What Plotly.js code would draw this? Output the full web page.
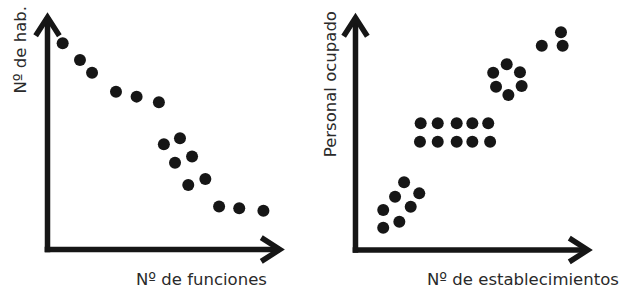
<!DOCTYPE html>
<html>
<head>
<meta charset="utf-8">
<script src="https://cdn.plot.ly/plotly-3.0.1.min.js"></script>
<style>
html, body { margin: 0; padding: 0; background: #ffffff; }
#chart { width: 624px; height: 288px; }
</style>
</head>
<body>
<div id="chart"></div>
<script>
// Left panel: Nº de funciones vs Nº de hab.
const funcionesX = [0.64, 1.37, 1.88, 2.89, 3.76, 4.70, 4.91, 5.59, 5.38, 6.10, 5.94, 6.66, 7.24, 8.09, 9.11];
const habitantesY = [8.70, 8.00, 7.46, 6.66, 6.45, 6.21, 4.44, 4.69, 3.66, 3.92, 2.72, 2.97, 1.81, 1.74, 1.64];

// Right panel: Nº de establecimientos vs Personal ocupado
const establecimientosX = [1.17, 1.85, 1.17, 2.33, 1.67, 2.69, 2.05,
  2.75, 3.47, 4.27, 4.93, 5.60,
  2.72, 3.47, 4.27, 4.93, 5.68,
  6.38, 5.81, 6.94, 5.93, 7.01, 6.45,
  7.86, 8.67, 8.74];
const personalY = [0.94, 1.19, 1.69, 1.83, 2.25, 2.39, 2.86,
  5.35, 5.35, 5.35, 5.35, 5.35,
  4.57, 4.57, 4.57, 4.57, 4.57,
  7.84, 7.48, 7.50, 6.89, 6.92, 6.54,
  8.62, 9.19, 8.62];

const leftXTitle = 'Nº de funciones';
const leftYTitle = 'Nº de hab.';
const rightXTitle = 'Nº de establecimientos';
const rightYTitle = 'Personal ocupado';

const INK = '#161616';
const FONT = {family: 'DejaVu Sans, Arial, sans-serif', size: 16.5, color: '#2a2a2a'};

const markerStyle = {symbol: 'circle', size: 12, color: INK, line: {width: 0}};

const traces = [
  {type: 'scatter', mode: 'markers', x: funcionesX, y: habitantesY, xaxis: 'x', yaxis: 'y', marker: markerStyle, hoverinfo: 'skip'},
  {type: 'scatter', mode: 'markers', x: establecimientosX, y: personalY, xaxis: 'x2', yaxis: 'y2', marker: markerStyle, hoverinfo: 'skip'}
];

// Arrow-style axes drawn as shapes in each panel's own data units (origin 0, tip 10)
function arrowAxes(xr, yr) {
  const ln = {color: INK, width: 5.5};
  const tip = 9.8, back = 0.78, side = 0.5;
  return [
    {type: 'line', xref: xr, yref: yr, x0: -0.12, y0: 0, x1: tip, y1: 0, line: ln},
    {type: 'line', xref: xr, yref: yr, x0: 0, y0: -0.12, x1: 0, y1: tip, line: ln},
    {type: 'path', xref: xr, yref: yr, line: ln,
      path: `M ${tip - back},${side} L ${tip},0 L ${tip - back},${-side}`},
    {type: 'path', xref: xr, yref: yr, line: ln,
      path: `M ${-side},${tip - back} L 0,${tip} L ${side},${tip - back}`}
  ];
}

const layout = {
  width: 624, height: 288,
  margin: {l: 0, r: 0, t: 0, b: 0},
  paper_bgcolor: '#ffffff', plot_bgcolor: '#ffffff',
  showlegend: false,
  xaxis: {domain: [0, 0.5], range: [-2.004, 11.160], visible: false, fixedrange: true},
  yaxis: {domain: [0, 1], range: [-1.624, 10.527], visible: false, fixedrange: true},
  xaxis2: {domain: [0.5, 1], range: [-1.835, 11.329], anchor: 'y2', visible: false, fixedrange: true},
  yaxis2: {domain: [0, 1], range: [-1.603, 10.549], anchor: 'x2', visible: false, fixedrange: true},
  shapes: arrowAxes('x', 'y').concat(arrowAxes('x2', 'y2')),
  annotations: [
    {text: leftXTitle, xref: 'paper', yref: 'paper', x: 201 / 624, y: 1 - 279 / 288,
      xanchor: 'center', yanchor: 'middle', showarrow: false, font: FONT},
    {text: leftYTitle, xref: 'paper', yref: 'paper', x: 20 / 624, y: 1 - 49.5 / 288,
      xanchor: 'center', yanchor: 'middle', textangle: -90, showarrow: false, font: FONT},
    {text: rightXTitle, xref: 'paper', yref: 'paper', x: 621 / 624, y: 1 - 279 / 288,
      xanchor: 'right', yanchor: 'middle', showarrow: false, font: FONT},
    {text: rightYTitle, xref: 'paper', yref: 'paper', x: 330.5 / 624, y: 1 - 84.7 / 288,
      xanchor: 'center', yanchor: 'middle', textangle: -90, showarrow: false, font: FONT}
  ]
};

Plotly.newPlot('chart', traces, layout, {staticPlot: true, displayModeBar: false});
</script>
</body>
</html>
